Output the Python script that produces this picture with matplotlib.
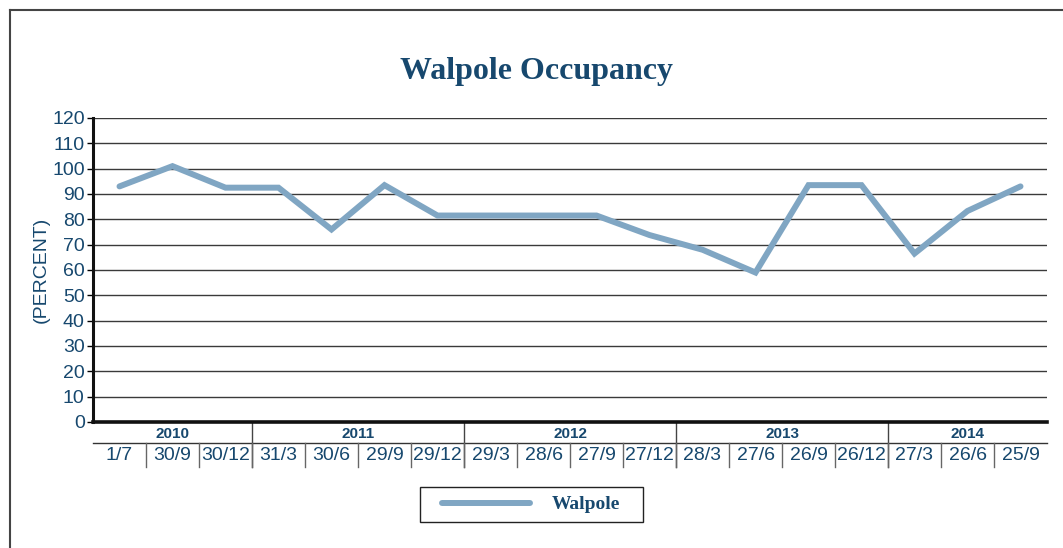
import matplotlib
matplotlib.use("Agg")
import matplotlib.pyplot as plt
from matplotlib.transforms import blended_transform_factory
from matplotlib.lines import Line2D
from matplotlib.patches import Rectangle

dates = ["1/7", "30/9", "30/12", "31/3", "30/6", "29/9", "29/12", "29/3", "28/6",
         "27/9", "27/12", "28/3", "27/6", "26/9", "26/12", "27/3", "26/6", "25/9"]
years = ["2010", "2011", "2012", "2013", "2014"]
year_counts = [3, 4, 4, 4, 3]
walpole = [93, 101, 92.5, 92.5, 76, 93.5, 81.5, 81.5, 81.5, 81.5, 73.8, 68, 59,
           93.5, 93.5, 66.5, 83.3, 93]

W, H = 1063, 548
TXT = "#17486e"
LINE = "#80a6c3"

fig = plt.figure(figsize=(W / 100, H / 100), dpi=100)
ax = fig.add_axes([93 / W, (H - 422) / H, (1047 - 93) / W, (422 - 118) / H])

x = list(range(len(dates)))
ax.plot(x, walpole, color=LINE, lw=4.3, solid_capstyle="round",
        solid_joinstyle="miter", zorder=3)
ax.set_xlim(-0.5, len(dates) - 0.5)
ax.set_ylim(0, 120)
ax.set_yticks(range(0, 121, 10))
ax.tick_params(axis="y", labelsize=14, labelcolor=TXT, length=4, width=1, pad=2)
ax.set_xticks([])
for lbl in ax.get_yticklabels():
    lbl.set_family("Liberation Sans")
for v in range(10, 121, 10):
    ax.axhline(v, color="#3a3a3a", lw=1.0, zorder=1)
for s in ["top", "right"]:
    ax.spines[s].set_visible(False)
ax.spines["left"].set_linewidth(2.2)
ax.spines["bottom"].set_linewidth(2.6)
ax.spines["left"].set_color("#111")
ax.spines["bottom"].set_color("#111")
ax.set_ylabel("(PERCENT)", color=TXT, fontsize=14, family="Liberation Sans", labelpad=2)

# category axis rows
tr = blended_transform_factory(ax.transData, fig.transFigure)
fy = lambda py: (H - py) / H
ax.add_line(Line2D([-0.5, len(dates) - 0.5], [fy(443), fy(443)], transform=tr,
                   color="#333", lw=1.0, clip_on=False))
start = 0
for yr, n in zip(years, year_counts):
    ax.text(start + (n - 1) / 2, fy(434), yr, transform=tr, ha="center", va="center",
            fontsize=11, fontweight="bold", color=TXT, family="Liberation Sans")
    if start > 0:
        ax.add_line(Line2D([start - 0.5, start - 0.5], [fy(422), fy(467)], transform=tr,
                           color="#444", lw=1.0, clip_on=False))
    start += n
for i, d in enumerate(dates):
    ax.text(i, fy(456), d, transform=tr, ha="center", va="center",
            fontsize=14, color=TXT, family="Liberation Sans")
    if i > 0:
        ax.add_line(Line2D([i - 0.5, i - 0.5], [fy(443), fy(467)], transform=tr,
                           color="#666", lw=1.0, clip_on=False))

# title
fig.text(536 / W, fy(72), "Walpole Occupancy", ha="center", va="center",
         fontsize=23, fontweight="bold", color=TXT, family="Liberation Serif")

# outer frame
fig.add_artist(Line2D([10 / W, 1], [fy(10), fy(10)], transform=fig.transFigure,
                      color="#444", lw=1.5))
fig.add_artist(Line2D([10 / W, 10 / W], [fy(10), 0], transform=fig.transFigure,
                      color="#444", lw=1.5))

# legend
fig.add_artist(Rectangle((420 / W, fy(522)), (643 - 420) / W, (522 - 487) / H,
                         transform=fig.transFigure, fill=False, edgecolor="#222", lw=1.0))
h = Line2D([], [], color=LINE, lw=4.3, solid_capstyle="round")
leg = fig.legend([h], ["Walpole"], loc="center", bbox_to_anchor=(531 / W, fy(504.5)),
                 frameon=False, handlelength=4.5, handletextpad=1.1,
                 borderpad=0.55, borderaxespad=0,
                 prop={"family": "Liberation Serif", "weight": "bold", "size": 14})
for t in leg.get_texts():
    t.set_color(TXT)

fig.savefig("out.png", dpi=100)
